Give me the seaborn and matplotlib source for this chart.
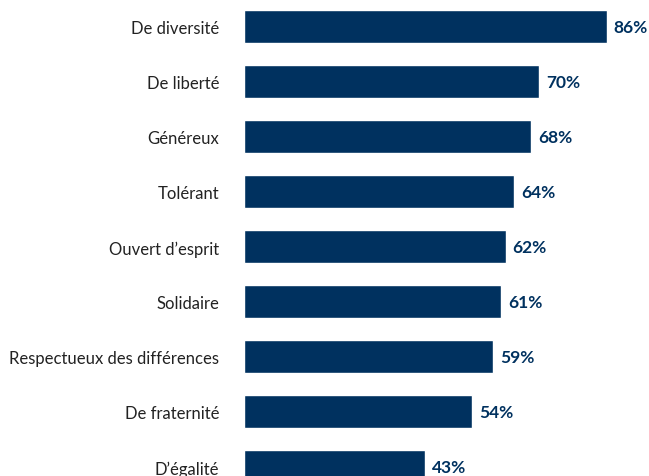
import matplotlib
matplotlib.use("Agg")
import matplotlib.pyplot as plt
import seaborn as sns
import pandas as pd

# ================= DATA =================
categories = [
    "De diversité",
    "De liberté",
    "Généreux",
    "Tolérant",
    "Ouvert d’esprit",
    "Solidaire",
    "Respectueux des différences",
    "De fraternité",
    "D’égalité",
]
values = [86, 70, 68, 64, 62, 61, 59, 54, 43]

NAVY = "#00315f"

sns.set_theme(style="white")
plt.rcParams['font.family'] = ['Lato', 'DejaVu Sans']

df = pd.DataFrame({"label": categories, "pct": values})

fig = plt.figure(figsize=(6.49, 4.77), dpi=100)
ax = fig.add_axes([244 / 649, 0, 1 - 244 / 649, 1])

sns.barplot(data=df, x="pct", y="label", orient="h", color=NAVY,
            width=0.6, saturation=1, ax=ax)

ax.bar_label(ax.containers[0], labels=[f"{v}%" for v in values],
             padding=5, color=NAVY, fontsize=12.5, fontweight="bold")

ax.set_xlim(0, 96)
ax.set_ylim(8.164, -0.509)
ax.set_xlabel("")
ax.set_ylabel("")
ax.set_xticks([])
ax.tick_params(axis="y", length=0, pad=18, labelsize=12, labelcolor="#222222")
sns.despine(ax=ax, left=True, bottom=True)

fig.savefig("out.png", dpi=100, facecolor="white")
